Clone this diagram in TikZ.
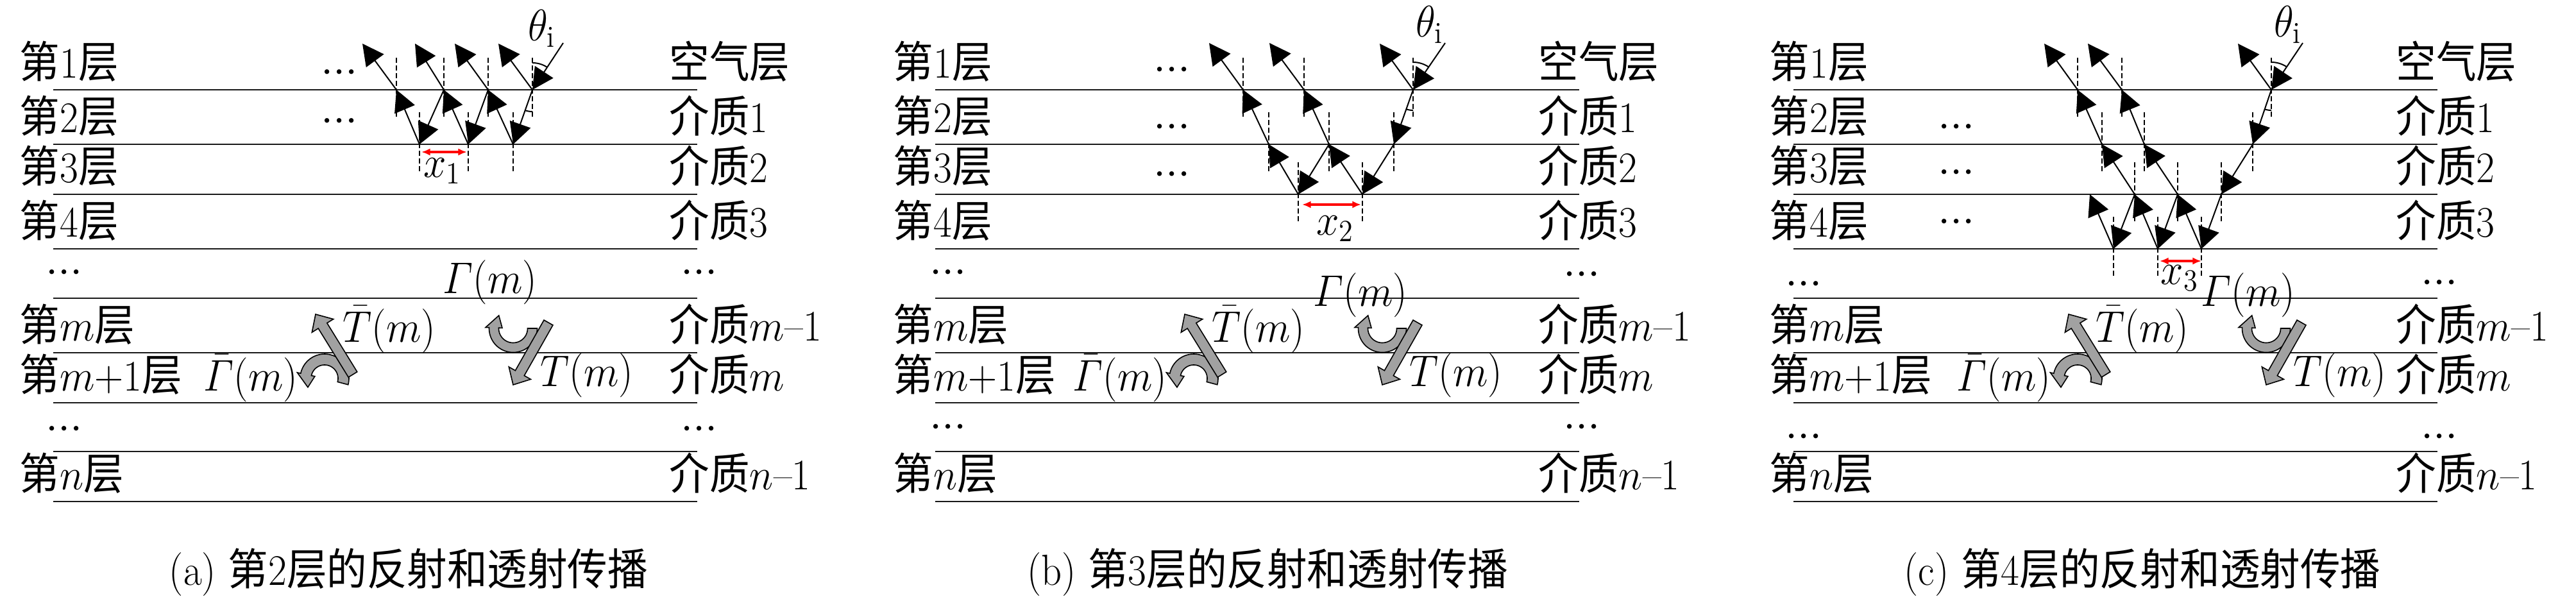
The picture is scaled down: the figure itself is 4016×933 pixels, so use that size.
\documentclass[tikz,border=0pt]{standalone}
\usepackage{amsmath}
\usepackage{fontspec}
\usepackage{graphicx}
\newfontfamily\cjk{Noto Sans CJK SC}
\usetikzlibrary{arrows.meta,calc}
\newcommand\zh[1]{{\cjk #1}}
\newcommand\sqz[1]{\scalebox{0.92}[1]{#1}}
\newcommand\dts{$\mathord{\cdot}\mathord{\cdot}\mathord{\cdot}$}
\newcommand\blockarr[3]{%
  \coordinate (#1t) at #2;
  \coordinate (#1p) at #3;
  \coordinate (#1h) at ($(#1p)!5.25pt!(#1t)$);
  \filldraw[garrow] ($(#1t)!2pt!90:(#1p)$) -- ($(#1h)!2pt!90:(#1p)$) -- ($(#1h)!4.9pt!90:(#1p)$) -- (#1p) -- ($(#1h)!4.9pt!-90:(#1p)$) -- ($(#1h)!2pt!-90:(#1p)$) -- ($(#1t)!2pt!-90:(#1p)$) -- cycle;
}
\newcommand\midgroup[2]{%
  \begin{scope}[shift={(#2,0)}]
    \filldraw[garrow] plot[domain=15:-168,samples=40] ({506+38*cos(\x)},{590+38*sin(\x)}) -- ({506+43.5*cos(-168)},{590+43.5*sin(-168)}) -- ({506+29.5*cos(-208)},{590+29.5*sin(-208)}) -- ({506+15.5*cos(-168)},{590+15.5*sin(-168)}) -- plot[domain=-168:15,samples=40] ({506+21*cos(\x)},{590+21*sin(\x)}) -- cycle;
    \blockarr{#1-la}{(550,584)}{(492,490)}
    \filldraw[garrow] plot[domain=0:182,samples=40] ({800+37.5*cos(\x)},{512+37.5*sin(\x)}) -- ({800+43*cos(182)},{512+43*sin(182)}) -- ({800+30*cos(222)},{512+30*sin(222)}) -- ({800+17*cos(182)},{512+17*sin(182)}) -- plot[domain=182:0,samples=40] ({800+22.5*cos(\x)},{512+22.5*sin(\x)}) -- cycle;
    \blockarr{#1-ra}{(855,503)}{(800,600)}
    \node[clbl] (#1-Tb) at (607,533) {\sqz{$\bar{T}(m)$}};
    \node[clbl] (#1-T) at (915,602) {\sqz{$T(m)$}};
    \node[clbl] (#1-Gb) at (391,609) {\sqz{$\bar{\varGamma}(m)$}};
  \end{scope}}
\newcommand\sidelabels[9]{%
  \node[lbl] (#1-L1) at (#2,121) {\sqz{\zh{第}1\zh{层}}};
  \node[lbl] (#1-L2) at (#2,206) {\sqz{\zh{第}2\zh{层}}};
  \node[lbl] (#1-L3) at (#2,284) {\sqz{\zh{第}3\zh{层}}};
  \node[lbl] (#1-L4) at (#2,369) {\sqz{\zh{第}4\zh{层}}};
  \node[lbl] (#1-Lm) at (#2,531) {\sqz{\zh{第}$m$\zh{层}}};
  \node[lbl] (#1-Lm1) at (#2,609) {\sqz{\zh{第}$m$+1\zh{层}}};
  \node[lbl] (#1-Ln) at (#2,763) {\sqz{\zh{第}$n$\zh{层}}};
  \node[lbl] (#1-R1) at (#3,121) {\sqz{\zh{空气层}}};
  \node[lbl] (#1-R2) at (#3,206) {\sqz{\zh{介质}1}};
  \node[lbl] (#1-R3) at (#3,284) {\sqz{\zh{介质}2}};
  \node[lbl] (#1-R4) at (#3,369) {\sqz{\zh{介质}3}};
  \node[lbl] (#1-Rm) at (#3,531) {\sqz{\zh{介质}$m$–1}};
  \node[lbl] (#1-Rm1) at (#3,609) {\sqz{\zh{介质}$m$}};
  \node[lbl] (#1-Rn) at (#3,763) {\sqz{\zh{介质}$n$–1}};
  \node[clbl] (#1-ld1) at (#4,#6) {\dts};
  \node[clbl] (#1-ld2) at (#4,#7) {\dts};
  \node[clbl] (#1-rd1) at (#5,#8) {\dts};
  \node[clbl] (#1-rd2) at (#5,#9) {\dts};
}
\newcommand\nrm[1]{\draw[normal] ($(#1)+(0,-50)$) -- ($(#1)+(0,43)$);}
\begin{document}
\begin{tikzpicture}[x=0.25pt,y=-0.25pt,
  font=\fontsize{17pt}{20pt}\selectfont,
  lbl/.style={inner sep=0pt, anchor=base west},
  clbl/.style={inner sep=0pt, anchor=base},
  layer/.style={line width=0.68pt, draw=black!90},
  ray/.style={line width=0.5pt, -{Triangle[length=8.3pt,width=8.5pt]}},
  normal/.style={line width=0.5pt, dash pattern=on 2pt off 1pt},
  angarc/.style={line width=0.5pt},
  redarr/.style={line width=0.8pt, red, {Latex[length=3.4pt,width=2.8pt]}-{Latex[length=3.4pt,width=2.8pt]}},
  garrow/.style={fill=black!37, draw=black, line width=0.4pt, line join=miter},
]
\useasboundingbox (0,0) rectangle (4016,933);
\fill[white] (0,0) rectangle (4016,933);

% layer lines
\foreach \yy in {140,225,303,388,465,550,628,704,782} {
  \draw[layer] (83,\yy) -- (1087,\yy);
  \draw[layer] (1458,\yy) -- (2462,\yy);
  \draw[layer] (2796,\yy) -- (3800,\yy);
}

% side labels
\sidelabels{a}{30}{1043}{100}{1090}{441}{685}{441}{685}
\sidelabels{b}{1392}{2398}{1478}{2466}{441}{682}{444}{682}
\sidelabels{c}{2758}{3735}{2812}{3803}{459}{697}{457}{697}

% middle groups
\midgroup{a}{0}
\midgroup{b}{1355}
\midgroup{c}{2733}
\node[clbl] (a-G) at (764,457) {\sqz{$\varGamma(m)$}};
\node[clbl] (b-G) at (2121,477) {\sqz{$\varGamma(m)$}};
\node[clbl] (c-G) at (3505,477) {\sqz{$\varGamma(m)$}};

% ===== panel a rays =====
\coordinate (a-in) at (878,67);
\coordinate (a-A1) at (830,140); \coordinate (a-A2) at (761,140);
\coordinate (a-A3) at (692,140); \coordinate (a-A4) at (618,140);
\coordinate (a-B1) at (800,225); \coordinate (a-B2) at (730,225); \coordinate (a-B3) at (654,225);
\coordinate (a-U1) at (777,68); \coordinate (a-U2) at (709,68);
\coordinate (a-U3) at (647,68); \coordinate (a-U4) at (565,68);
\foreach \p in {a-A1,a-A2,a-A3,a-A4,a-B1,a-B2,a-B3} {\nrm{\p}}
\foreach \s/\e in {a-in/a-A1,a-A1/a-U1,a-A2/a-U2,a-A3/a-U3,a-A4/a-U4,a-A1/a-B1,a-B1/a-A2,a-A2/a-B2,a-B2/a-A3,a-A3/a-B3,a-B3/a-A4}
  {\draw[ray] (\s) -- (\e);}
\draw[angarc] plot[domain=-90:-56.7,samples=20] ({830+42*cos(\x)},{140+42*sin(\x)});
\draw[angarc] plot[domain=90:109.4,samples=12] ({830+34*cos(\x)},{140+34*sin(\x)});
\coordinate (a-xl) at (657,237); \coordinate (a-xr) at (728,237);
\draw[redarr] (a-xl) -- (a-xr);
\node[clbl] (a-x) at (690,276) {\sqz{$x_1$}};
\node[lbl] (a-th) at (823,63) {\sqz{$\theta_\mathrm{i}$}};
\node[clbl] (a-d1) at (529,129) {\dts};
\node[clbl] (a-d2) at (529,205) {\dts};

% ===== panel b rays =====
\coordinate (b-in) at (2253,67);
\coordinate (b-P1) at (2203,140); \coordinate (b-P2) at (2033,140); \coordinate (b-P3) at (1938,140);
\coordinate (b-Q1) at (2173,225); \coordinate (b-Q2) at (2072,225); \coordinate (b-Q3) at (1978,225);
\coordinate (b-R1) at (2124,303); \coordinate (b-R2) at (2024,303);
\coordinate (b-U1) at (2151,68); \coordinate (b-U2) at (1979,67); \coordinate (b-U3) at (1885,67);
\foreach \p in {b-P1,b-P2,b-P3,b-Q1,b-Q2,b-Q3,b-R1,b-R2} {\nrm{\p}}
\foreach \s/\e in {b-in/b-P1,b-P1/b-U1,b-P2/b-U2,b-P3/b-U3,b-P1/b-Q1,b-Q3/b-P3,b-Q2/b-P2,b-Q1/b-R1,b-R1/b-Q2,b-Q2/b-R2,b-R2/b-Q3}
  {\draw[ray] (\s) -- (\e);}
\draw[angarc] plot[domain=-90:-55.6,samples=20] ({2203+43*cos(\x)},{140+43*sin(\x)});
\draw[angarc] plot[domain=90:109.4,samples=12] ({2203+32*cos(\x)},{140+32*sin(\x)});
\coordinate (b-xl) at (2030,319); \coordinate (b-xr) at (2122,319);
\draw[redarr] (b-xl) -- (b-xr);
\node[clbl] (b-x) at (2082,366) {\sqz{$x_2$}};
\node[lbl] (b-th) at (2207,57) {\sqz{$\theta_\mathrm{i}$}};
\node[clbl] (b-d1) at (1827,125) {\dts};
\node[clbl] (b-d2) at (1827,214) {\dts};
\node[clbl] (b-d3) at (1827,288) {\dts};

% ===== panel c rays =====
\coordinate (c-in) at (3590,67);
\coordinate (c-C1) at (3541,140); \coordinate (c-C2) at (3308,140); \coordinate (c-C3) at (3239,140);
\coordinate (c-D1) at (3512,225); \coordinate (c-D2) at (3343,225); \coordinate (c-D3) at (3277,225);
\coordinate (c-E1) at (3463,303); \coordinate (c-E2) at (3395,303); \coordinate (c-E3) at (3328,303); \coordinate (c-E4) at (3258,303);
\coordinate (c-F1) at (3432,388); \coordinate (c-F2) at (3364,388); \coordinate (c-F3) at (3295,388);
\coordinate (c-U1) at (3489,68); \coordinate (c-U2) at (3255,68); \coordinate (c-U3) at (3187,68);
\foreach \p in {c-C1,c-C2,c-C3,c-D1,c-D2,c-D3,c-E1,c-E2,c-E3,c-F1,c-F2,c-F3} {\nrm{\p}}
\foreach \s/\e in {c-in/c-C1,c-C1/c-U1,c-C2/c-U2,c-C3/c-U3,c-C1/c-D1,c-D3/c-C3,c-D2/c-C2,c-D1/c-E1,c-E3/c-D3,c-E2/c-D2,c-E1/c-F1,c-F1/c-E2,c-E2/c-F2,c-F2/c-E3,c-E3/c-F3,c-F3/c-E4}
  {\draw[ray] (\s) -- (\e);}
\draw[angarc] plot[domain=-90:-56.1,samples=20] ({3541+43*cos(\x)},{140+43*sin(\x)});
\draw[angarc] plot[domain=90:108.8,samples=12] ({3541+32*cos(\x)},{140+32*sin(\x)});
\coordinate (c-xl) at (3367,407); \coordinate (c-xr) at (3432,407);
\draw[redarr] (c-xl) -- (c-xr);
\node[clbl] (c-x) at (3398,443) {\sqz{$x_3$}};
\node[lbl] (c-th) at (3545,57) {\sqz{$\theta_\mathrm{i}$}};
\node[clbl] (c-d1) at (3050,214) {\dts};
\node[clbl] (c-d2) at (3050,285) {\dts};
\node[clbl] (c-d3) at (3050,362) {\dts};

% captions
\node[clbl] (capa) at (637,912) {\sqz{(a) \zh{第}2\zh{层的反射和透射传播}}};
\node[clbl] (capb) at (1976,912) {\sqz{(b) \zh{第}3\zh{层的反射和透射传播}}};
\node[clbl] (capc) at (3340,912) {\sqz{(c) \zh{第}4\zh{层的反射和透射传播}}};
\end{tikzpicture}
\end{document}
